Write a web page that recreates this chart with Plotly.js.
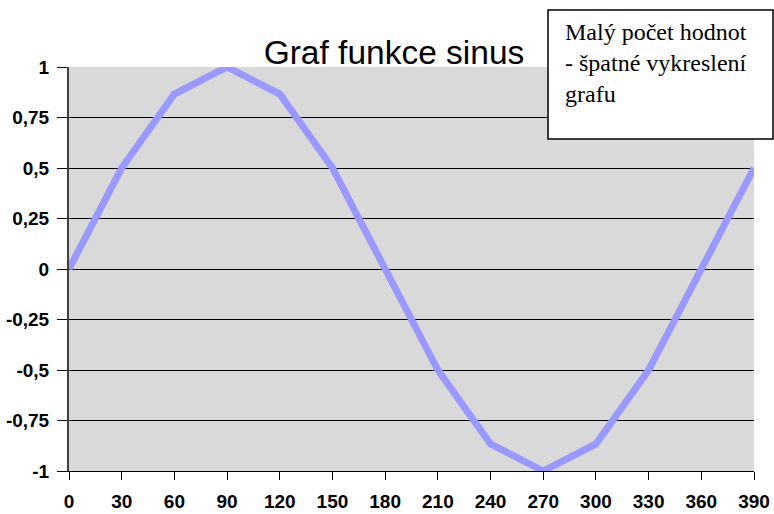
<!DOCTYPE html>
<html>
<head>
<meta charset="utf-8">
<script src="https://cdn.plot.ly/plotly-3.0.1.min.js"></script>
<style>html,body{margin:0;padding:0;background:#fff;}#chart{width:774px;height:514px;}</style>
</head>
<body>
<div id="chart"></div>
<script>
const angles = [0, 30, 60, 90, 120, 150, 180, 210, 240, 270, 300, 330, 360, 390];
const sinValues = [0, 0.5, 0.866, 1, 0.866, 0.5, 0, -0.5, -0.866, -1, -0.866, -0.5, 0, 0.5];
const yTickVals = [1, 0.75, 0.5, 0.25, 0, -0.25, -0.5, -0.75, -1];
const yTickText = ['1', '0,75', '0,5', '0,25', '0', '-0,25', '-0,5', '-0,75', '-1'];
const xTickVals = angles;
const titleText = 'Graf funkce sinus';
const noteText = 'Malý počet hodnot<br>- špatné vykreslení<br>grafu';

const trace = {
  x: angles, y: sinValues, type: 'scatter', mode: 'lines',
  line: {color: '#9999ff', width: 7}, hoverinfo: 'skip'
};
const layout = {
  width: 774, height: 514,
  margin: {l: 69, r: 20, t: 67, b: 43},
  paper_bgcolor: '#ffffff', plot_bgcolor: '#d9d9d9',
  showlegend: false,
  font: {family: 'Liberation Sans, Arial, sans-serif', color: '#000'},
  title: {text: titleText, font: {size: 33.5, family: 'Liberation Sans, Arial, sans-serif', color: '#000'},
          x: 394/774, xanchor: 'center', y: 1 - 52/514, yanchor: 'middle'},
  xaxis: {
    range: [0, 390], tickvals: xTickVals, ticktext: xTickVals.map(String),
    ticks: 'outside', ticklen: 8, tickwidth: 1, tickcolor: '#000',
    showgrid: false, zeroline: false, showline: true, linecolor: '#000', linewidth: 1,
    tickfont: {size: 19, family: 'Liberation Sans, Arial, sans-serif', weight: 'bold', color: '#000'},
    ticklabelstandoff: 5
  },
  yaxis: {
    range: [-1, 1], tickvals: yTickVals, ticktext: yTickText,
    ticks: 'outside', ticklen: 10, tickwidth: 1, tickcolor: '#000',
    showgrid: true, gridcolor: '#000', gridwidth: 1, zeroline: false,
    showline: true, linecolor: '#404040', linewidth: 2,
    tickfont: {size: 19, family: 'Liberation Sans, Arial, sans-serif', weight: 'bold', color: '#000'},
    ticklabelstandoff: 4
  },
  shapes: [{
    type: 'rect', xref: 'paper', yref: 'paper',
    x0: (548 - 69) / 685, x1: (773 - 69) / 685,
    y0: (471 - 139) / 404, y1: (471 - 10) / 404,
    line: {color: '#000', width: 1.5}, fillcolor: '#ffffff', layer: 'above'
  }],
  annotations: [{
    xref: 'paper', yref: 'paper', x: (563 - 69) / 685, y: (471 - 17) / 404,
    xanchor: 'left', yanchor: 'top', align: 'left', showarrow: false,
    text: noteText,
    font: {family: 'Liberation Serif, Times New Roman, serif', size: 24, color: '#000'}
  }]
};
Plotly.newPlot('chart', [trace], layout, {displayModeBar: false, staticPlot: true});
</script>
</body>
</html>
